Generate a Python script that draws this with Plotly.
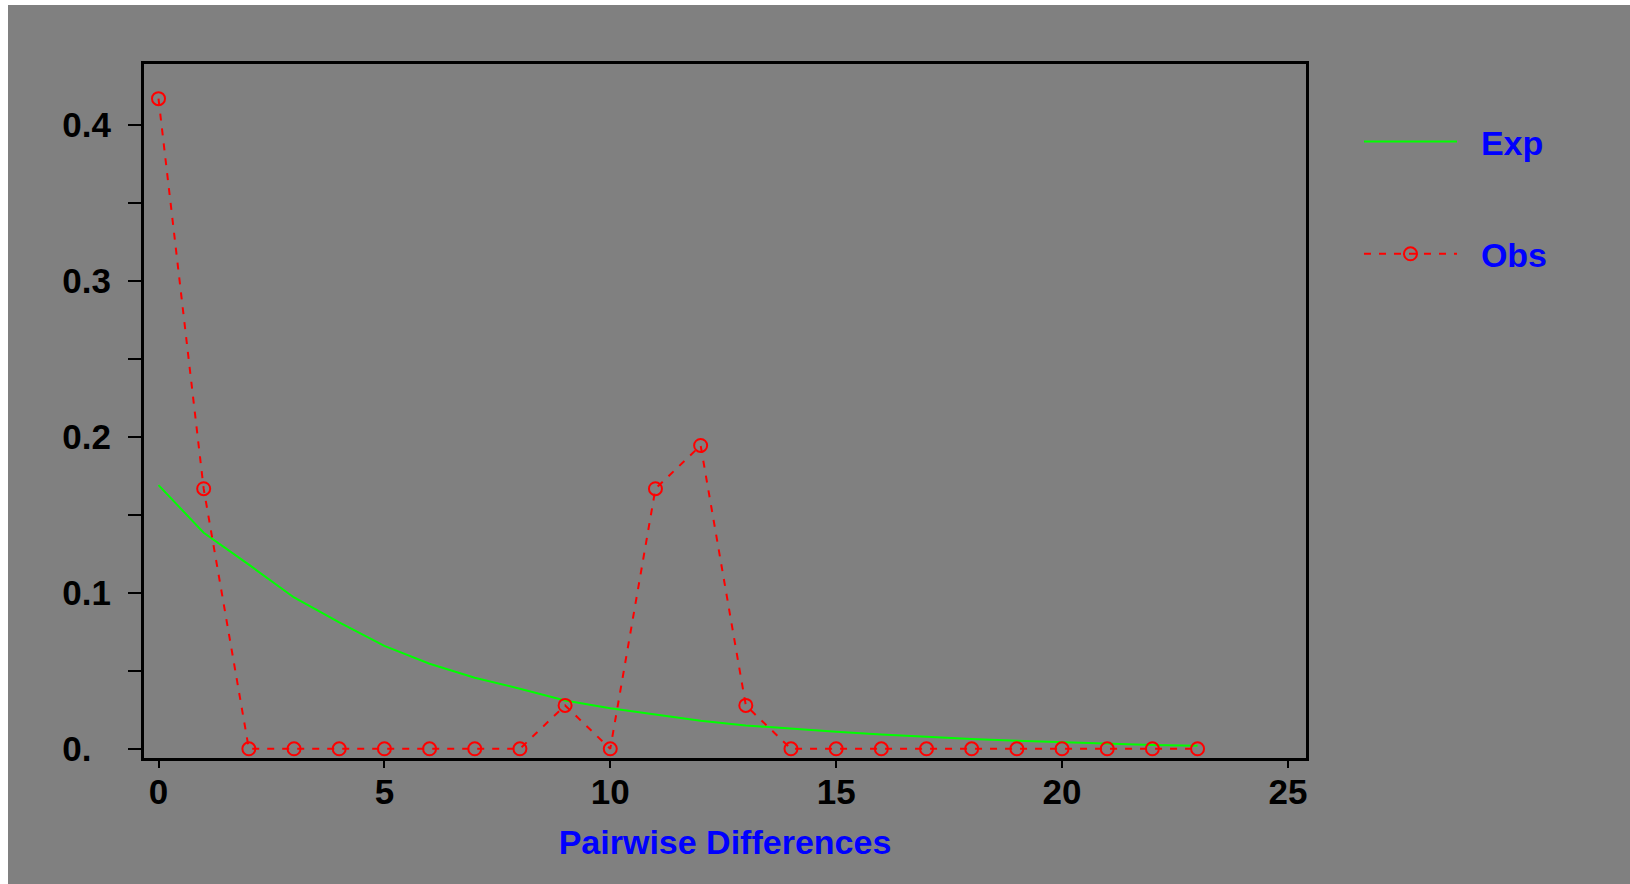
import plotly.graph_objects as go

# ---- data ----
x_diff = list(range(24))
obs_freq = [0.4167, 0.1667, 0, 0, 0, 0, 0, 0, 0, 0.0278, 0, 0.1667, 0.1944, 0.0278,
            0, 0, 0, 0, 0, 0, 0, 0, 0, 0]
exp_freq = [0.169, 0.1385, 0.118, 0.097, 0.081, 0.066, 0.0545, 0.0455, 0.0385, 0.031,
            0.026, 0.022, 0.018, 0.015, 0.0128, 0.011, 0.0092, 0.0077, 0.0063, 0.0052,
            0.0042, 0.0033, 0.0025, 0.0019]
y_tickvals = [0, 0.1, 0.2, 0.3, 0.4]
y_ticktext = ["0.\u00a0\u00a0", "0.1", "0.2", "0.3", "0.4"]
x_tickvals = [0, 5, 10, 15, 20, 25]
x_ticktext = ["0", "5", "10", "15", "20", "25"]
x_title = "Pairwise Differences"
series_names = ["\u00a0\u00a0Exp", "\u00a0\u00a0Obs"]

GRAY = "#808080"
FONT = "Liberation Sans"

fig = go.Figure()
fig.add_trace(go.Scatter(
    x=x_diff, y=exp_freq, name=series_names[0], mode="lines",
    line=dict(color="#00FF00", width=2), legendgroup="a"))
fig.add_trace(go.Scatter(
    x=x_diff, y=obs_freq, name=series_names[1], mode="lines+markers",
    line=dict(color="#FF0000", width=2, dash="7px,8px"),
    marker=dict(symbol="circle-open", size=13, color="#FF0000",
                line=dict(color="#FF0000", width=2)),
    legendgroup="b"))

fig.update_layout(
    width=1622, height=879,
    paper_bgcolor=GRAY, plot_bgcolor=GRAY,
    margin=dict(l=136, r=324, t=59, b=126),
    font=dict(family=FONT, size=35, color="black", weight="bold"),
    showlegend=True,
    legend=dict(x=1.0456, xanchor="left", y=0.9294, yanchor="top",
                bgcolor="rgba(0,0,0,0)", itemwidth=93, tracegroupgap=65,
                font=dict(family=FONT, size=34, color="#0000FF", weight="bold")),
    xaxis=dict(range=[-0.321, 25.40], tickvals=x_tickvals, ticktext=x_ticktext,
               showgrid=False, zeroline=False, showline=True, mirror=True,
               linecolor="black", linewidth=3, ticks="outside", ticklen=7,
               tickwidth=2, tickcolor="black", ticklabelstandoff=-6,
               title=dict(text=x_title, standoff=21,
                          font=dict(family=FONT, size=34, color="#0000FF", weight="bold"))),
    yaxis=dict(range=[-0.0059, 0.4389], tickvals=y_tickvals, ticktext=y_ticktext,
               showgrid=False, zeroline=False, showline=True, mirror=True,
               linecolor="black", linewidth=3, ticks="outside", ticklen=13,
               tickwidth=2, tickcolor="black", ticklabelstandoff=10,
               minor=dict(dtick=0.05, tick0=0, ticks="outside", ticklen=13,
                          tickwidth=2, tickcolor="black", showgrid=False)),
)

fig.write_html("out.html",
               post_script="document.body.style.margin='5px 0 0 8px';"
                           "document.body.style.overflow='hidden';"
                           "document.body.style.background='white';")
